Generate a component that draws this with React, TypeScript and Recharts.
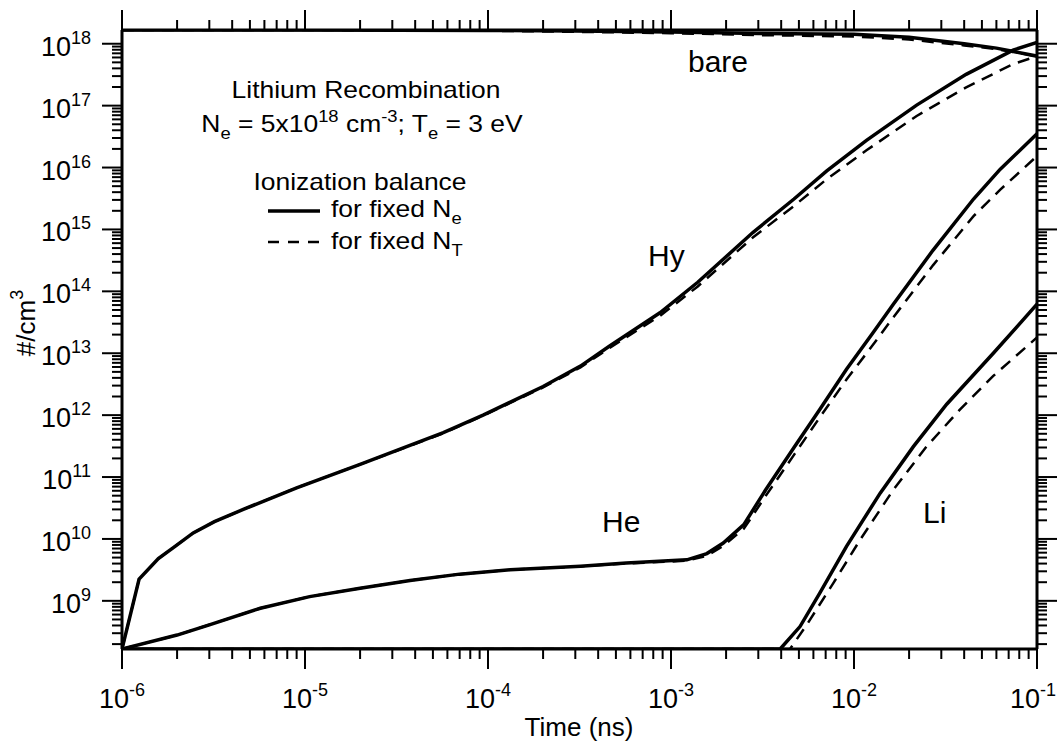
import React from "react";
import { LineChart, Line, XAxis, YAxis } from "recharts";

const FONT = '"Liberation Sans", Arial, Helvetica, sans-serif';

// axis ranges (log axes)
const timeRange = [1e-6, 1e-1];
const densRange = [1.667e8, 1.667e18];

const timeMajor = [1e-6, 1e-5, 1e-4, 1e-3, 1e-2, 1e-1];
const densMajor = [1e9, 1e10, 1e11, 1e12, 1e13, 1e14, 1e15, 1e16, 1e17, 1e18];
const minorSteps = [2, 3, 4, 5, 6, 7, 8, 9];

// bare (fully stripped) ions
const bareTime = [1e-6, 1e-5, 1e-4, 3e-4, 1e-3, 3e-3, 1e-2, 2e-2, 4e-2, 6e-2, 1e-1];
const bareFixedNe = [1.667e18, 1.667e18, 1.64e18, 1.6e18, 1.55e18, 1.47e18, 1.42e18, 1.27e18, 1.0e18, 8.5e17, 6.3e17];
const bareFixedNt = [1.667e18, 1.667e18, 1.62e18, 1.56e18, 1.48e18, 1.38e18, 1.31e18, 1.17e18, 9.4e17, 8.2e17, 6.3e17];

// hydrogen-like
const hyTime = [
  1e-6, 1.24e-6, 1.58e-6, 1.95e-6, 2.45e-6, 3.2e-6, 4.6e-6, 9.0e-6, 2.0e-5, 5.7e-5, 9.4e-5, 2.0e-4, 3.2e-4,
  4.6e-4, 8.7e-4, 1.4e-3, 2.8e-3, 4.7e-3, 7.1e-3, 1.17e-2, 2.2e-2, 4.1e-2, 7.4e-2, 1e-1,
];
const hyFixedNe = [
  1.667e8, 2.24e9, 4.8e9, 7.6e9, 1.25e10, 1.9e10, 3.0e10, 6.7e10, 1.6e11, 5.2e11, 1.0e12, 2.9e12, 6.2e12,
  1.3e13, 4.5e13, 1.4e14, 8.9e14, 3.1e15, 8.8e15, 2.75e16, 1.02e17, 3.2e17, 7.9e17, 1.05e18,
];
const hyFixedNt = [
  1.667e8, 2.24e9, 4.8e9, 7.6e9, 1.25e10, 1.9e10, 3.0e10, 6.7e10, 1.6e11, 5.1e11, 9.8e11, 2.8e12, 5.9e12,
  1.21e13, 4.0e13, 1.2e14, 7.4e14, 2.4e15, 6.5e15, 1.9e16, 6.8e16, 1.97e17, 4.7e17, 6.3e17,
];

// helium-like
const heTime = [
  1e-6, 2e-6, 3e-6, 5.7e-6, 1.06e-5, 2e-5, 3.75e-5, 7e-5, 1.32e-4, 3.2e-4, 5.7e-4, 1.22e-3, 1.57e-3,
  1.93e-3, 2.5e-3, 3.3e-3, 4.7e-3, 6.5e-3, 9.1e-3, 1.27e-2, 1.64e-2, 2.7e-2, 4.5e-2, 6.3e-2, 1e-1,
];
const heFixedNe = [
  1.667e8, 2.8e8, 4.1e8, 7.6e8, 1.17e9, 1.6e9, 2.13e9, 2.7e9, 3.18e9, 3.62e9, 4.07e9, 4.6e9, 5.8e9,
  8.6e9, 1.7e10, 6.3e10, 3.0e11, 1.23e12, 5.5e12, 2.15e13, 6.2e13, 4.6e14, 3.1e15, 9.4e15, 3.5e16,
];
const heFixedNt = [
  1.667e8, 2.8e8, 4.1e8, 7.6e8, 1.17e9, 1.6e9, 2.13e9, 2.7e9, 3.18e9, 3.6e9, 4.02e9, 4.44e9, 5.36e9,
  7.7e9, 1.46e10, 5.0e10, 2.28e11, 9.2e11, 3.77e12, 1.37e13, 3.8e13, 2.63e14, 1.64e15, 4.4e15, 1.53e16,
];

// lithium-like
const liTimeNe = [1e-6, 3.95e-3, 5.07e-3, 6.5e-3, 9.1e-3, 1.39e-2, 2.11e-2, 3.21e-2, 5.77e-2, 1e-1];
const liFixedNe = [1.667e8, 1.667e8, 3.84e8, 1.33e9, 7.6e9, 5.5e10, 3.1e11, 1.5e12, 1.0e13, 6.2e13];
const liTimeNt = [1e-6, 4.47e-3, 5.52e-3, 7.71e-3, 1.08e-2, 1.64e-2, 2.49e-2, 3.79e-2, 5.77e-2, 1e-1];
const liFixedNt = [1.667e8, 1.667e8, 4.1e8, 1.93e9, 9.7e9, 6.2e10, 3.1e11, 1.23e12, 4.3e12, 1.8e13];

const series = (t: number[], n: number[]) => t.map((v, i) => ({ t: v, n: n[i] }));

const withMinors = (majors: number[], range: number[]) => {
  const out: number[] = [];
  const first = majors[0] / 10;
  [first, ...majors].forEach((m) => {
    out.push(m);
    minorSteps.forEach((s) => out.push(m * s));
  });
  return out
    .filter((v) => v >= range[0] * 0.999 && v <= range[1] * 1.001)
    .sort((a, b) => a - b);
};
const timeTicks = withMinors(timeMajor, timeRange);
const densTicks = withMinors(densMajor, densRange);

const isMajor = (v: number) => Math.abs(Math.log10(v) - Math.round(Math.log10(v))) < 1e-6;
const expOf = (v: number) => String(Math.round(Math.log10(v)));

const MAJOR = 20;
const MINOR = 10;
const CHART_W = 1058;

const Pow = ({ x, y, exp, anchor }: any) => (
  <text x={x} y={y} textAnchor={anchor} fontFamily={FONT} fontSize={27} fill="#000">
    10
    <tspan dy={-12} fontSize={18}>
      {exp}
    </tspan>
  </text>
);

const BottomTick = (props: any) => {
  const { x, y, payload } = props;
  const major = isMajor(payload.value);
  // keep the last label inside the picture
  const nearEdge = x + 24 > CHART_W;
  return (
    <g>
      <line x1={x} x2={x} y1={y} y2={y + (major ? MAJOR : MINOR)} stroke="#000" strokeWidth={2} />
      {major && (
        <Pow
          x={nearEdge ? CHART_W - 2 : x}
          y={y + 59}
          exp={expOf(payload.value)}
          anchor={nearEdge ? "end" : "middle"}
        />
      )}
    </g>
  );
};

const TopTick = (props: any) => {
  const { x, y, payload } = props;
  const major = isMajor(payload.value);
  return <line x1={x} x2={x} y1={y} y2={y - (major ? MAJOR : MINOR)} stroke="#000" strokeWidth={2} />;
};

const LeftTick = (props: any) => {
  const { x, y, payload } = props;
  const major = isMajor(payload.value);
  return (
    <g>
      <line x1={x} x2={x - (major ? MAJOR : MINOR)} y1={y} y2={y} stroke="#000" strokeWidth={2} />
      {major && <Pow x={x - 31} y={y + 12} exp={expOf(payload.value)} anchor="end" />}
    </g>
  );
};

const RightTick = (props: any) => {
  const { x, y, payload } = props;
  const major = isMajor(payload.value);
  return <line x1={x} x2={x + (major ? MAJOR : MINOR)} y1={y} y2={y} stroke="#000" strokeWidth={2} />;
};

const Txt = ({ x, y, size = 23, sx = 1, anchor = "start", children }: any) => (
  <text
    transform={`translate(${x},${y}) scale(${sx},1)`}
    textAnchor={anchor}
    fontSize={size}
    fontFamily={FONT}
    fill="#000"
    style={{ whiteSpace: "pre" }}
  >
    {children}
  </text>
);

const axisLine = { stroke: "#000", strokeWidth: 3 };

export default function App() {
  const solid = { stroke: "#000", strokeWidth: 3.5, dot: false, isAnimationActive: false, type: "linear" as const };
  const dashed = { ...solid, strokeWidth: 2.5, strokeDasharray: "12 8" };
  return (
    <div style={{ position: "absolute", left: 0, top: 0, width: CHART_W, height: 744, background: "#fff" }}>
      <LineChart width={CHART_W} height={744} margin={{ top: 0, right: 0, bottom: 0, left: 0 }}>
        <XAxis
          xAxisId="bottom"
          dataKey="t"
          type="number"
          scale="log"
          domain={timeRange}
          allowDataOverflow
          ticks={timeTicks}
          interval={0}
          height={95}
          tickSize={0}
          tickMargin={0}
          tickLine={false}
          axisLine={axisLine}
          tick={<BottomTick />}
        />
        <XAxis
          xAxisId="top"
          orientation="top"
          dataKey="t"
          type="number"
          scale="log"
          domain={timeRange}
          allowDataOverflow
          ticks={timeTicks}
          interval={0}
          height={30}
          tickSize={0}
          tickMargin={0}
          tickLine={false}
          axisLine={axisLine}
          tick={<TopTick />}
        />
        <YAxis
          yAxisId="left"
          dataKey="n"
          type="number"
          scale="log"
          domain={densRange}
          allowDataOverflow
          ticks={densTicks}
          interval={0}
          width={122}
          tickSize={0}
          tickMargin={0}
          tickLine={false}
          axisLine={axisLine}
          tick={<LeftTick />}
        />
        <YAxis
          yAxisId="right"
          orientation="right"
          dataKey="n"
          type="number"
          scale="log"
          domain={densRange}
          allowDataOverflow
          ticks={densTicks}
          interval={0}
          width={21}
          tickSize={0}
          tickMargin={0}
          tickLine={false}
          axisLine={axisLine}
          tick={<RightTick />}
        />

        <Line xAxisId="bottom" yAxisId="left" data={series(bareTime, bareFixedNt)} dataKey="n" {...dashed} />
        <Line xAxisId="bottom" yAxisId="left" data={series(hyTime, hyFixedNt)} dataKey="n" {...dashed} />
        <Line xAxisId="bottom" yAxisId="left" data={series(heTime, heFixedNt)} dataKey="n" {...dashed} />
        <Line xAxisId="bottom" yAxisId="left" data={series(liTimeNt, liFixedNt)} dataKey="n" {...dashed} />
        <Line xAxisId="bottom" yAxisId="left" data={series(bareTime, bareFixedNe)} dataKey="n" {...solid} />
        <Line xAxisId="bottom" yAxisId="left" data={series(hyTime, hyFixedNe)} dataKey="n" {...solid} />
        <Line xAxisId="bottom" yAxisId="left" data={series(heTime, heFixedNe)} dataKey="n" {...solid} />
        <Line xAxisId="bottom" yAxisId="left" data={series(liTimeNe, liFixedNe)} dataKey="n" {...solid} />
      </LineChart>

      <svg
        width={CHART_W}
        height={744}
        style={{ position: "absolute", left: 0, top: 0, pointerEvents: "none" }}
      >
        <Txt x={366} y={98} sx={1.15} anchor="middle">
          Lithium Recombination
        </Txt>
        <Txt x={362} y={132} sx={1.15} anchor="middle">
          N
          <tspan fontSize={16} dy={7}>e</tspan>
          <tspan dy={-7}>{" = 5x10"}</tspan>
          <tspan fontSize={16} dy={-10}>18</tspan>
          <tspan dy={10}>{" cm"}</tspan>
          <tspan fontSize={16} dy={-10}>-3</tspan>
          <tspan dy={10}>{"; T"}</tspan>
          <tspan fontSize={16} dy={7}>e</tspan>
          <tspan dy={-7}>{" = 3 eV"}</tspan>
        </Txt>
        <Txt x={360} y={190} sx={1.15} anchor="middle">
          Ionization balance
        </Txt>
        <line x1={268} x2={320} y1={211} y2={211} stroke="#000" strokeWidth={3.5} />
        <Txt x={331} y={217} sx={1.15}>
          {"for fixed N"}
          <tspan fontSize={16} dy={7}>e</tspan>
        </Txt>
        <line x1={268} x2={320} y1={242} y2={242} stroke="#000" strokeWidth={2.5} strokeDasharray="11 9" />
        <Txt x={331} y={249} sx={1.15}>
          {"for fixed N"}
          <tspan fontSize={16} dy={7}>T</tspan>
        </Txt>

        <Txt x={688} y={72} size={30}>bare</Txt>
        <Txt x={648} y={266} size={30}>Hy</Txt>
        <Txt x={602} y={532} size={30}>He</Txt>
        <Txt x={923} y={523} size={30}>Li</Txt>

        <Txt x={579} y={736} size={26} anchor="middle">
          Time (ns)
        </Txt>
        <text
          transform="translate(35,323) rotate(-90)"
          textAnchor="middle"
          fontSize={26}
          fontFamily={FONT}
          fill="#000"
        >
          #/cm
          <tspan dy={-12} fontSize={18}>
            3
          </tspan>
        </text>
      </svg>
    </div>
  );
}
